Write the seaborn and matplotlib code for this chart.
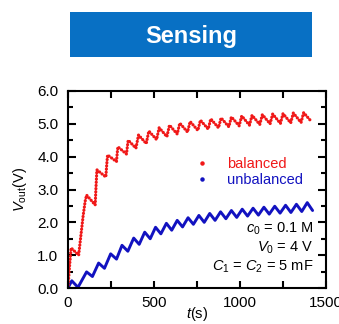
import matplotlib
matplotlib.use('Agg')
import matplotlib.pyplot as plt
from matplotlib.lines import Line2D
from matplotlib.patches import Rectangle
from matplotlib.ticker import MultipleLocator
import pandas as pd
import seaborn as sns

# Data (time in s, voltage in V)
red_t = [0, 8, 18, 62, 75, 88, 100, 108, 158, 163,
         168, 220, 225, 230, 282, 286, 290, 340, 345, 350,
         395, 410, 455, 470, 515, 530, 575, 590, 635, 650,
         695, 710, 755, 770, 815, 830, 875, 890, 935, 950,
         995, 1010, 1055, 1070, 1115, 1130, 1175, 1190, 1235, 1250,
         1295, 1310, 1355, 1370, 1410]
red_v = [0.0, 0.6, 1.22, 1.0, 1.6, 2.2, 2.65, 2.83, 2.53, 3.1,
         3.6, 3.38, 3.75, 4.05, 3.85, 4.1, 4.3, 4.08, 4.3, 4.5,
         4.26, 4.66, 4.4, 4.78, 4.52, 4.88, 4.61, 4.96, 4.69, 5.02,
         4.75, 5.07, 4.8, 5.11, 4.84, 5.15, 4.88, 5.18, 4.91, 5.21,
         4.94, 5.24, 4.96, 5.26, 4.98, 5.28, 5.0, 5.3, 5.01, 5.31,
         5.03, 5.33, 5.04, 5.34, 5.1]

blue_t = [0, 22, 58, 108, 142, 178, 212, 248, 282, 314,
          348, 382, 414, 446, 478, 509, 540, 572, 603, 635,
          666, 698, 729, 761, 792, 824, 855, 887, 918, 950,
          981, 1013, 1044, 1076, 1107, 1139, 1170, 1202, 1233, 1265,
          1296, 1328, 1359, 1391, 1422]
blue_v = [0.0, 0.22, 0.02, 0.49, 0.35, 0.76, 0.6, 1.04, 0.88, 1.3,
          1.12, 1.52, 1.33, 1.7, 1.5, 1.85, 1.65, 1.97, 1.76, 2.06,
          1.86, 2.14, 1.94, 2.21, 2.0, 2.27, 2.06, 2.32, 2.11, 2.36,
          2.15, 2.4, 2.19, 2.43, 2.22, 2.46, 2.25, 2.49, 2.28, 2.52,
          2.3, 2.55, 2.33, 2.6, 2.36]

series = ['balanced', 'unbalanced']
colors = ['#f01818', '#1212c0']
notes = [r'$c_0$ = 0.1 M', r'$V_0$ = 4 V', r'$C_1$ = $C_2$ = 5 mF']

df_red = pd.DataFrame({'t': red_t, 'V': red_v})
df_blue = pd.DataFrame({'t': blue_t, 'V': blue_v})

sns.set_style('ticks')
plt.rcParams['font.family'] = ['Liberation Sans', 'DejaVu Sans']
plt.rcParams['mathtext.fontset'] = 'custom'
plt.rcParams['mathtext.rm'] = 'Liberation Sans'
plt.rcParams['mathtext.it'] = 'Liberation Sans:italic'
plt.rcParams['text.color'] = 'black'
plt.rcParams['axes.labelcolor'] = 'black'
plt.rcParams['xtick.color'] = 'black'
plt.rcParams['ytick.color'] = 'black'

fig = plt.figure(figsize=(3.39, 3.24), dpi=100)
ax = fig.add_axes([68 / 339, 1 - 288 / 324, 258 / 339, 197 / 324])

# banner title
fig.patches.append(Rectangle((70 / 339, 1 - 57 / 324), 242 / 339, 45 / 324,
                             transform=fig.transFigure, facecolor='#0870c4',
                             edgecolor='none'))
fig.text(191 / 339, 1 - 36.5 / 324, 'Sensing', color='white', fontsize=17,
         fontweight='bold', ha='center', va='center')

sns.lineplot(data=df_blue, x='t', y='V', ax=ax, color=colors[1], lw=2.1,
             sort=False, estimator=None)
sns.lineplot(data=df_red, x='t', y='V', ax=ax, color=colors[0], lw=2.3,
             sort=False, estimator=None, linestyle=(0, (0.05, 0.95)),
             dash_capstyle='round')

ax.set_xlim(0, 1500)
ax.set_ylim(0, 6)
ax.xaxis.set_major_locator(MultipleLocator(500))
ax.xaxis.set_minor_locator(MultipleLocator(250))
ax.yaxis.set_major_locator(MultipleLocator(1))
ax.yaxis.set_minor_locator(MultipleLocator(0.5))
ax.yaxis.set_major_formatter('{x:.1f}')
ax.tick_params(which='both', direction='in', top=True, right=True,
               width=1.5, labelsize=11, color='black', labelcolor='black')
ax.tick_params(axis='y', which='major', length=6, pad=7)
ax.tick_params(axis='y', which='minor', length=3.5)
ax.tick_params(axis='x', which='both', length=5, pad=6)
for s in ax.spines.values():
    s.set_linewidth(1.5)
    s.set_color('black')

ax.set_xlabel(r'$t$(s)', fontsize=10.5)
ax.set_ylabel(r'$V_{\rm out}$(V)', fontsize=10.5)
ax.xaxis.set_label_coords(0.5, -0.088)
ax.yaxis.set_label_coords(-0.151, 0.5)

handles = [Line2D([], [], marker='o', ms=2.2, ls='', color=c) for c in colors]
ax.legend(handles, series, loc='upper left', bbox_to_anchor=(0.447, 0.73),
          frameon=False, handlelength=0.8, handletextpad=1.3,
          labelspacing=0.1, fontsize=10.5, labelcolor=colors)

for note, yb in zip(notes, [0.279, 0.183, 0.086]):
    ax.text(0.95, yb, note, transform=ax.transAxes, ha='right',
            va='baseline', fontsize=10.5)

fig.savefig('out.png', dpi=100)
